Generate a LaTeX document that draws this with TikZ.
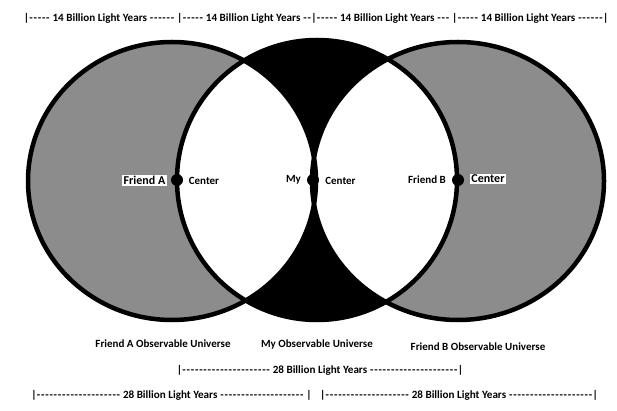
\documentclass[tikz,border=0pt]{standalone}
\usepackage{fontspec}
\usepackage{xcolor}
\usepackage{tikz}
\newfontfamily\yazi[Ligatures=TeXOff]{Carlito}
\definecolor{dolguGri}{HTML}{8C8C8C}
\definecolor{cizgiSiyah}{HTML}{000000}
% genis tire dizisi
\newcommand{\tireler}[1]{\foreach \i in {1,...,#1}{\makebox[4.2pt]{-}}}

\begin{document}
\begin{tikzpicture}[x=1pt,y=-1pt,
  etiket/.style={font=\yazi\bfseries\fontsize{11}{13}\selectfont,inner sep=1pt},
  kutulu/.style={font=\yazi\bfseries\fontsize{12}{14}\selectfont,fill=white,inner sep=1.5pt},
  olcu/.style={font=\yazi\bfseries\fontsize{11.1}{13}\selectfont,inner sep=0pt},
  nokta/.style={circle,fill=cizgiSiyah,inner sep=0pt,minimum size=12pt}]
\useasboundingbox (0,0) rectangle (617,411);
% gri evrenler
\fill[dolguGri] (172,181) ellipse [x radius=144,y radius=139];
\fill[dolguGri] (458,181) ellipse [x radius=146,y radius=139];
% orta evren siyah
\fill[cizgiSiyah] (317,180) circle [radius=140];
% kesisimler beyaz
\begin{scope}
\clip (317,180) circle [radius=140];
\fill[white] (172,181) ellipse [x radius=144,y radius=139];
\fill[white] (458,181) ellipse [x radius=146,y radius=139];
\end{scope}
% kenarlar
\draw[cizgiSiyah,line width=4.5pt] (172,181) ellipse [x radius=144,y radius=139];
\draw[cizgiSiyah,line width=4.5pt] (458,181) ellipse [x radius=146,y radius=139];
\draw[cizgiSiyah,line width=4.5pt] (317,180) circle [radius=140];
% merkezler
\node[nokta] (merkezA) at (177,180) {};
\node[nokta] (merkezBen) at (313,180) {};
\node[nokta] (merkezB) at (458,180) {};
\node[kutulu] (adA) at (144.5,180.5) {Friend A};
\node[etiket] (merkezYaziA) at (204,181) {Center};
\node[etiket] (adBen) at (293.5,180) {My};
\node[etiket] (merkezYaziBen) at (340.5,181) {Center};
\node[etiket] (adB) at (427,180) {Friend B};
\node[kutulu] (merkezYaziB) at (488,179) {Center};
% evren adlari
\node[etiket] (evrenA) at (163,344) {Friend A Observable Universe};
\node[etiket] (evrenBen) at (317,345) {My Observable Universe};
\node[etiket] (evrenB) at (478,347) {Friend B Observable Universe};
% uzakliklar
\node[olcu] (ustSatir) at (316,18) {|\tireler{5} 14 Billion Light Years \tireler{6} |\tireler{5} 14 Billion Light Years \tireler{2}|\tireler{5} 14 Billion Light Years \tireler{3} |\tireler{5} 14 Billion Light Years \tireler{6}|};
\node[olcu] (ortaSatir) at (320,370) {|\tireler{21} 28 Billion Light Years \tireler{21}|};
\node[olcu] (altSol) at (171.5,395) {|\tireler{20} 28 Billion Light Years \tireler{20} |};
\node[olcu] (altSag) at (459,395) {|\tireler{20} 28 Billion Light Years \tireler{20}|};
\end{tikzpicture}
\end{document}
